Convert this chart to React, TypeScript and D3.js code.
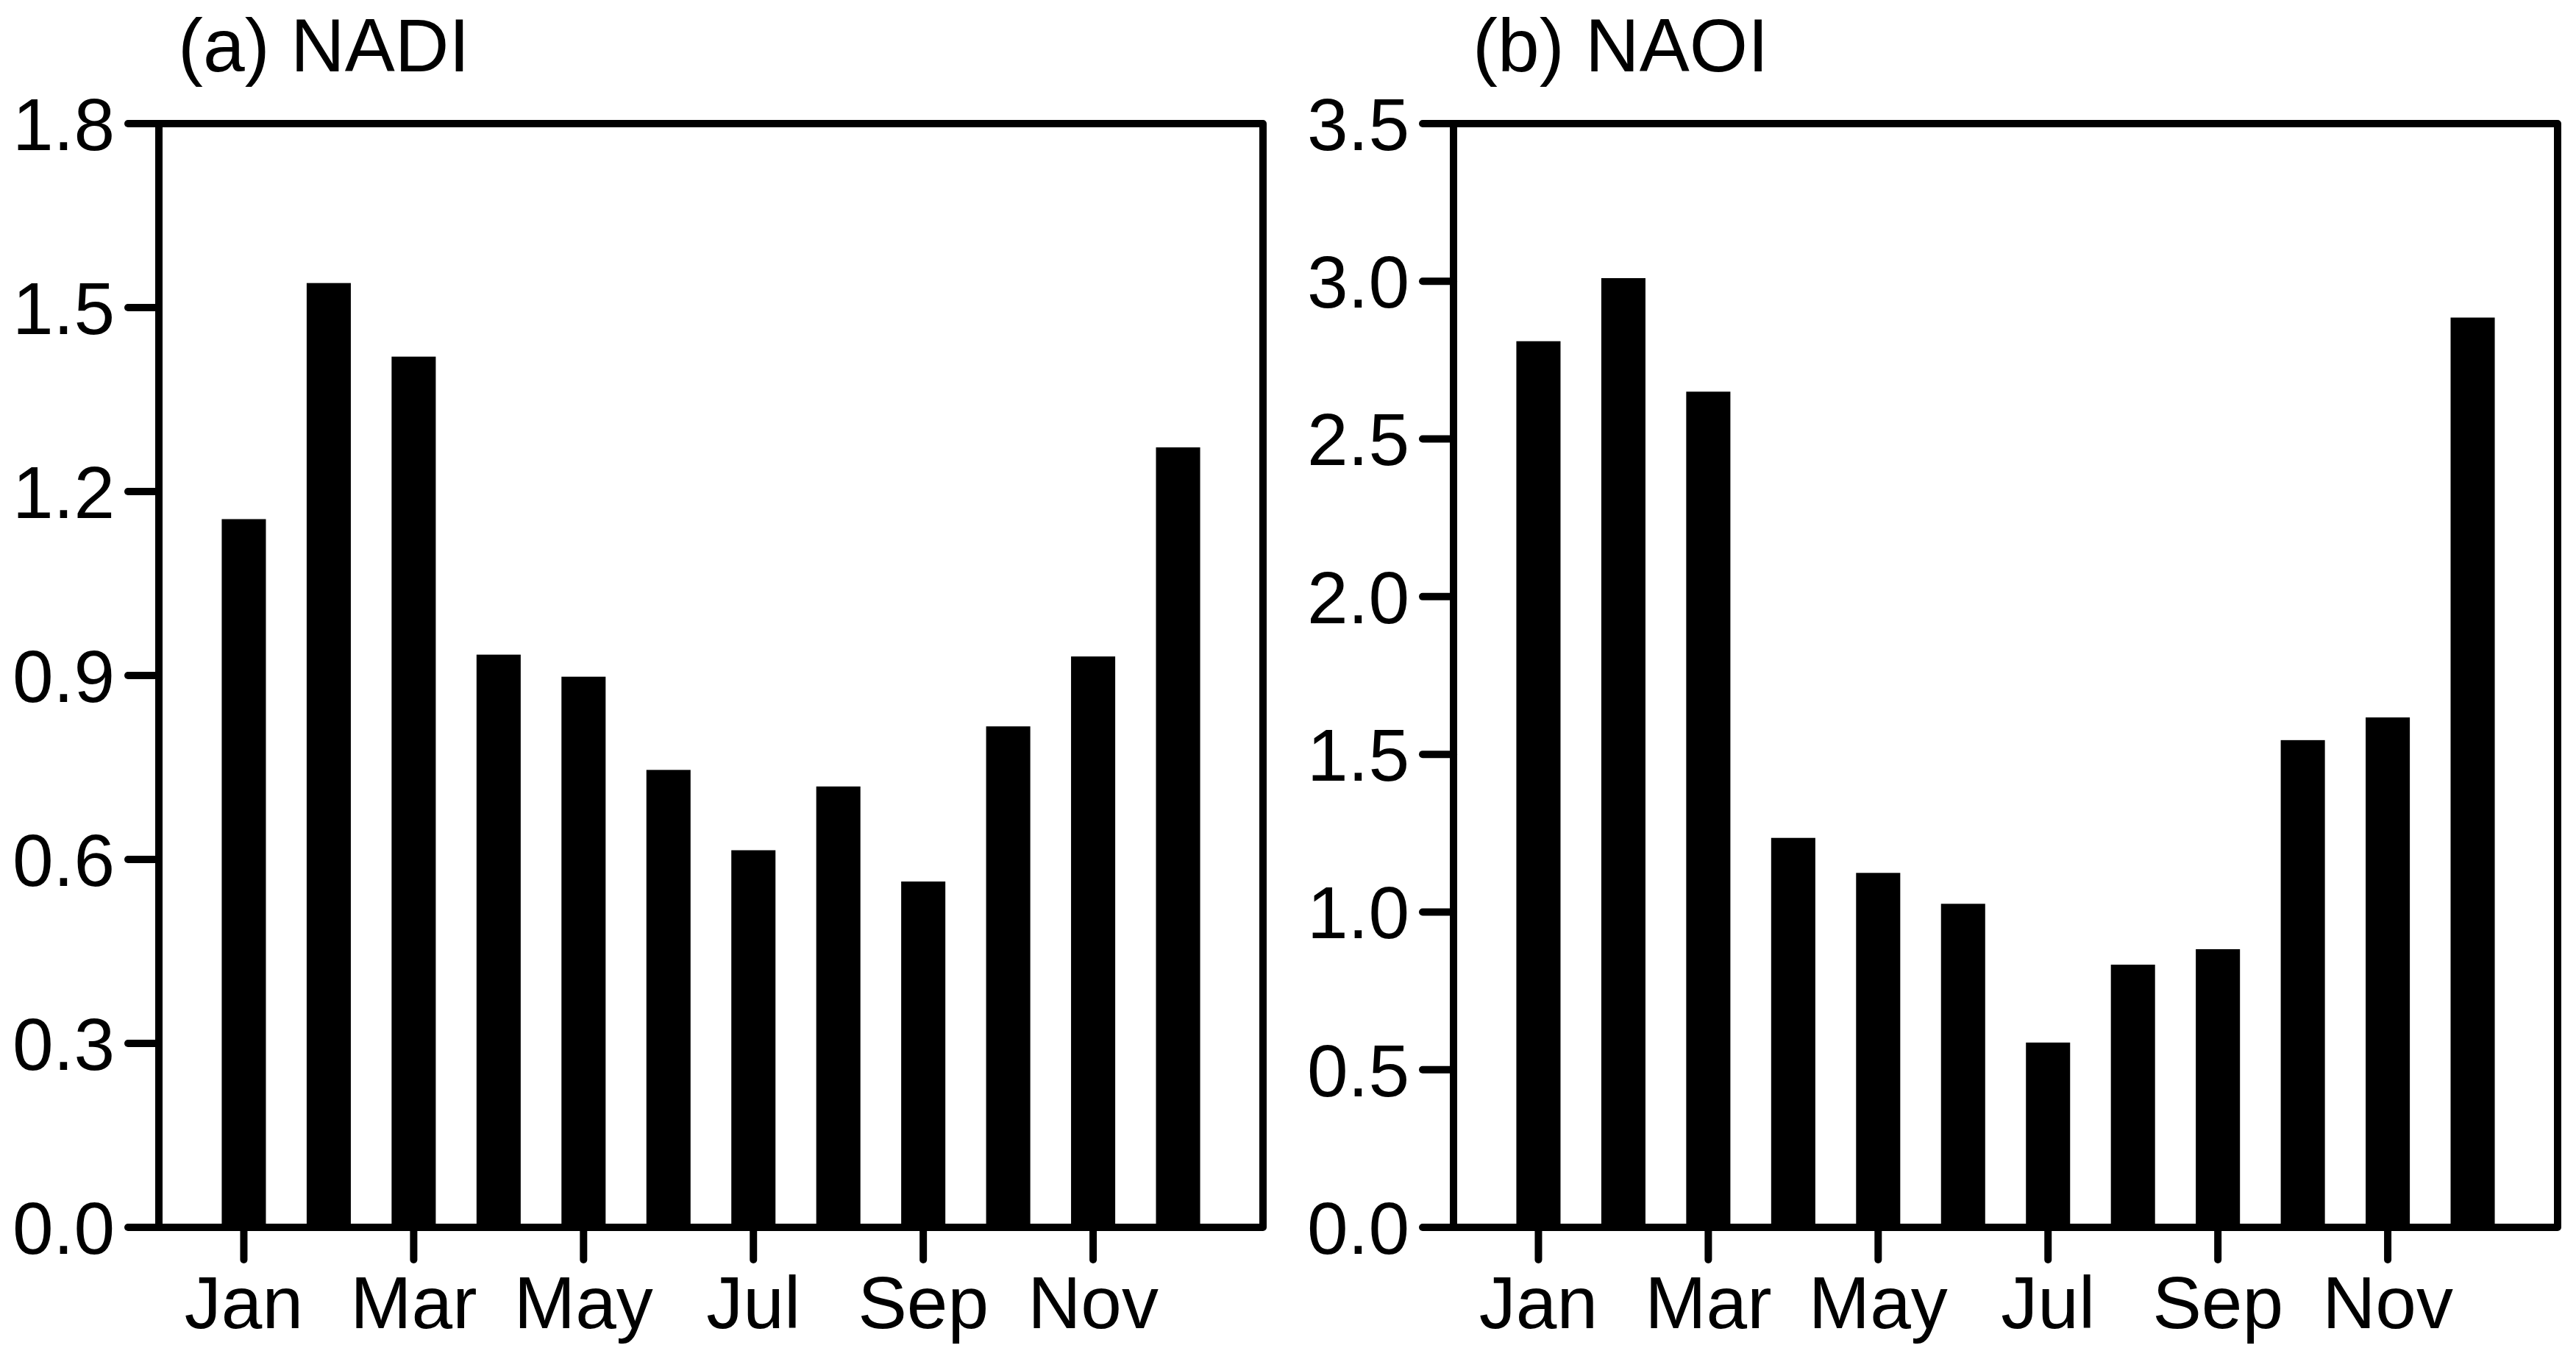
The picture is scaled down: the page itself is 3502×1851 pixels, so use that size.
import React from "react";
import * as d3 from "d3";

const months = ["Jan", "Feb", "Mar", "Apr", "May", "Jun", "Jul", "Aug", "Sep", "Oct", "Nov", "Dec"];
const nadiValues = [1.155, 1.54, 1.42, 0.934, 0.898, 0.746, 0.615, 0.719, 0.564, 0.817, 0.931, 1.272];
const naoiValues = [2.81, 3.01, 2.65, 1.235, 1.124, 1.026, 0.586, 0.833, 0.882, 1.545, 1.617, 2.885];
const nadiTicks = [0.0, 0.3, 0.6, 0.9, 1.2, 1.5, 1.8];
const naoiTicks = [0.0, 0.5, 1.0, 1.5, 2.0, 2.5, 3.0, 3.5];
const xTickMonths = ["Jan", "Mar", "May", "Jul", "Sep", "Nov"];

const W = 3502;
const H = 1851;
const TOP = 168;
const BOTTOM = 1668;
const FONT = "'Liberation Sans', Arial, Helvetica, sans-serif";
const FS = 100;
const TITLE_FS = 102;
const LW = 10;
const TICK = 42;

type PanelProps = {
  left: number;
  right: number;
  title: string;
  values: number[];
  ticks: number[];
  yMax: number;
};

function Panel({ left, right, title, values, ticks, yMax }: PanelProps) {
  const x = d3.scaleLinear().domain([0, 13]).range([left, right]);
  const y = d3.scaleLinear().domain([0, yMax]).range([BOTTOM, TOP]);
  const barW = x(0.52) - x(0);
  const fmt = d3.format(".1f");
  return (
    <g>
      {values.map((v, i) => (
        <rect
          key={i}
          x={x(i + 1) - barW / 2}
          y={y(v)}
          width={barW}
          height={y(0) - y(v)}
          fill="#000"
        />
      ))}
      <rect
        x={left}
        y={TOP}
        width={right - left}
        height={BOTTOM - TOP}
        fill="none"
        stroke="#000"
        strokeWidth={LW}
        strokeLinejoin="round"
      />
      {ticks.map((t) => (
        <g key={t}>
          <line x1={left - TICK} x2={left} y1={y(t)} y2={y(t)} stroke="#000" strokeWidth={LW} strokeLinecap="round" />
          <text
            x={left - TICK - 18}
            y={y(t) + FS * 0.358}
            textAnchor="end"
            fontFamily={FONT}
            fontSize={FS}
            fill="#000"
          >
            {fmt(t)}
          </text>
        </g>
      ))}
      {xTickMonths.map((m) => {
        const i = months.indexOf(m) + 1;
        return (
          <g key={m}>
            <line x1={x(i)} x2={x(i)} y1={BOTTOM} y2={BOTTOM + TICK + 2} stroke="#000" strokeWidth={LW} strokeLinecap="round" />
            <text x={x(i)} y={BOTTOM + 137} textAnchor="middle" fontFamily={FONT} fontSize={FS} fill="#000">
              {m}
            </text>
          </g>
        );
      })}
      <text x={left + 26} y={97} fontFamily={FONT} fontSize={TITLE_FS} fill="#000">
        {title}
      </text>
    </g>
  );
}

export default function App() {
  return (
    <svg
      width={W}
      height={H}
      viewBox={`0 0 ${W} ${H}`}
      style={{ position: "absolute", left: 0, top: 0, background: "#fff" }}
    >
      <rect x={0} y={0} width={W} height={H} fill="#fff" />
      <Panel left={216} right={1717} title="(a) NADI" values={nadiValues} ticks={nadiTicks} yMax={1.8} />
      <Panel left={1976} right={3477} title="(b) NAOI" values={naoiValues} ticks={naoiTicks} yMax={3.5} />
    </svg>
  );
}
